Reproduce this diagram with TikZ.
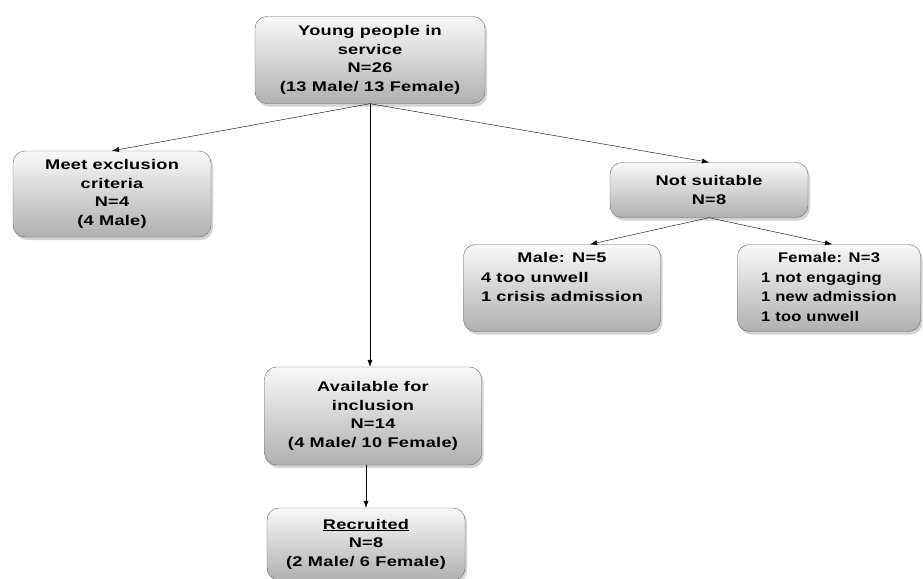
\documentclass[tikz,border=0pt]{standalone}
\usepackage{fontspec}
\setmainfont{Liberation Sans}[FakeStretch=1.3, LetterSpace=2]
\usetikzlibrary{shadows,arrows.meta}

\begin{document}
\begin{tikzpicture}[x=1pt, y=-1pt,
    box/.style={rectangle, draw=gray!80!black, rounded corners=12pt, top color=gray!5, bottom color=gray!62,
        drop shadow={shadow xshift=2pt, shadow yshift=-3pt, opacity=0.35}, align=center, inner sep=0pt,
        font=\bfseries\fontsize{14}{18.5}\selectfont},
    arrow/.style={-{Latex[length=7pt,width=5pt]}, thin}
]
\useasboundingbox (0,0) rectangle (923,578);

% Top box
\node[box, minimum width=230pt, minimum height=87pt] (young) at (370,60) {Young people in\\service\\N=26\\(13 Male/ 13 Female)};

% Second row
\node[box, minimum width=198pt, minimum height=86pt] (excl) at (112,194) {Meet exclusion\\criteria\\N=4\\(4 Male)};
\node[box, minimum width=198pt, minimum height=55pt] (notsuit) at (709,190) {Not suitable\\N=8};

% Not suitable split
\node[box, minimum width=197pt, minimum height=87pt] (male) at (562,288) {\renewcommand\arraystretch{1.05}%
    \begin{tabular}{@{}l@{}}\multicolumn{1}{@{}c@{}}{Male: N=5}\\4 too unwell\\1 crisis admission\\~\end{tabular}};
\node[box, minimum width=183pt, minimum height=87pt] (female) at (829,288) {\addfontfeatures{FakeStretch=1.18}\renewcommand\arraystretch{1.05}%
    \begin{tabular}{@{}l@{}}\multicolumn{1}{@{}c@{}}{Female: N=3}\\1 not engaging\\1 new admission\\1 too unwell\end{tabular}};

% Bottom column
\node[box, minimum width=217pt, minimum height=98pt] (avail) at (373,416) {Available for\\inclusion\\N=14\\(4 Male/ 10 Female)};
\node[box, minimum width=198pt, minimum height=72pt] (recr) at (366,544) {\underline{Recruited}\\N=8\\(2 Male/ 6 Female)};

% Arrows
\draw[arrow] (young.south) -- (excl.north);
\draw[arrow] (young.south) -- (notsuit.north);
\draw[arrow] (young.south) -- (young.south |- avail.north);
\draw[arrow] (notsuit.south) -- ([xshift=28pt]male.north);
\draw[arrow] (notsuit.south) -- ([xshift=3pt]female.north);
\draw[arrow] (avail.south -| recr.north) -- (recr.north);

\end{tikzpicture}
\end{document}
